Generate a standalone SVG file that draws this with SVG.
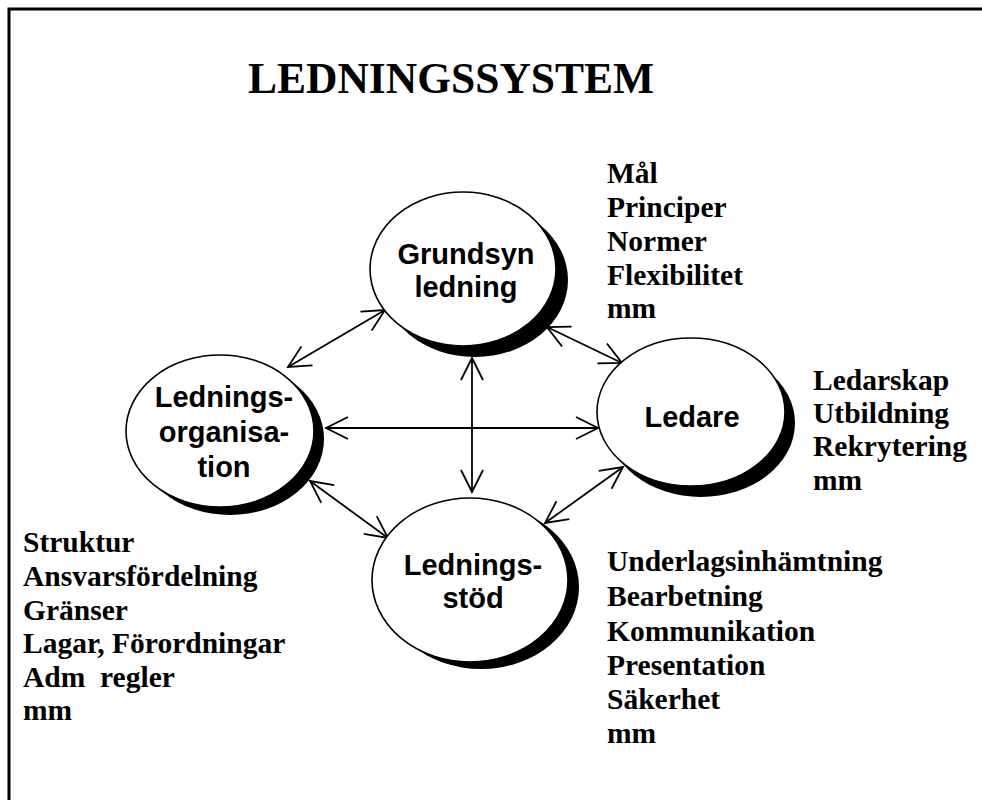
<svg xmlns="http://www.w3.org/2000/svg" width="982" height="800" viewBox="0 0 982 800">
<style>
.frame{fill:none;stroke:#000;stroke-width:3}
.shadow{fill:#000;stroke:none}
.node{fill:#fff;stroke:#000;stroke-width:1.6}
.nl{font-family:"Liberation Sans",Arial,sans-serif;font-weight:bold;font-size:29px;fill:#000;text-anchor:middle}
.lst{font-family:"Liberation Serif","Times New Roman",serif;font-weight:bold;font-size:29.5px;fill:#000}
.title{font-family:"Liberation Serif","Times New Roman",serif;font-weight:bold;font-size:43.5px;fill:#000}
.conn{stroke:#000;stroke-width:1.8;fill:none;marker-start:url(#ah);marker-end:url(#ah)}
</style>
<defs>
<marker id="ah" viewBox="-25 -13 27 26" markerWidth="27" markerHeight="26" refX="0" refY="0" markerUnits="userSpaceOnUse" orient="auto-start-reverse">
<path d="M-22,-11 L0,0 L-22,11" fill="none" stroke="#000" stroke-width="1.8"/>
</marker>
</defs>
<rect width="982" height="800" fill="#fff"/>
<path class="frame" d="M9,802 L9,9 L984,9"/>
<text class="title" x="248" y="93">LEDNINGSSYSTEM</text>

<g id="connectors">
<line class="conn" x1="385" y1="310" x2="288" y2="367"/>
<line class="conn" x1="547" y1="327" x2="622" y2="363"/>
<line class="conn" x1="472" y1="358" x2="472" y2="492"/>
<line class="conn" x1="326" y1="428" x2="598" y2="428"/>
<line class="conn" x1="310" y1="481" x2="388" y2="538"/>
<line class="conn" x1="623" y1="467" x2="545" y2="523"/>
</g>

<g id="grundsyn">
<ellipse class="shadow" cx="475" cy="280" rx="93" ry="77"/>
<ellipse class="node" cx="463" cy="269" rx="93" ry="77"/>
<text class="nl" x="466" y="264">Grundsyn</text>
<text class="nl" x="466" y="297">ledning</text>
</g>

<g id="ledningsorganisation">
<ellipse class="shadow" cx="230" cy="439" rx="94" ry="76"/>
<ellipse class="node" cx="220" cy="431" rx="94" ry="76"/>
<text class="nl" x="224" y="407">Lednings-</text>
<text class="nl" x="224" y="442">organisa-</text>
<text class="nl" x="224" y="477">tion</text>
</g>

<g id="ledare">
<ellipse class="shadow" cx="701" cy="423" rx="94" ry="74"/>
<ellipse class="node" cx="691" cy="412" rx="94" ry="74"/>
<text class="nl" x="692" y="427">Ledare</text>
</g>

<g id="ledningsstod">
<ellipse class="shadow" cx="481" cy="587" rx="98" ry="82"/>
<ellipse class="node" cx="470" cy="580" rx="98" ry="82"/>
<text class="nl" x="473" y="575">Lednings-</text>
<text class="nl" x="473" y="608">stöd</text>
</g>

<g id="list-grundsyn">
<text class="lst" x="607" y="183">Mål</text>
<text class="lst" x="607" y="217">Principer</text>
<text class="lst" x="607" y="251">Normer</text>
<text class="lst" x="607" y="285">Flexibilitet</text>
<text class="lst" x="607" y="318">mm</text>
</g>

<g id="list-ledare">
<text class="lst" x="813" y="390">Ledarskap</text>
<text class="lst" x="813" y="423">Utbildning</text>
<text class="lst" x="813" y="456">Rekrytering</text>
<text class="lst" x="813" y="490">mm</text>
</g>

<g id="list-organisation">
<text class="lst" x="23" y="552">Struktur</text>
<text class="lst" x="23" y="586">Ansvarsfördelning</text>
<text class="lst" x="23" y="620">Gränser</text>
<text class="lst" x="23" y="653">Lagar, Förordningar</text>
<text class="lst" x="23" y="687">Adm&#160; regler</text>
<text class="lst" x="23" y="720">mm</text>
</g>

<g id="list-ledningsstod">
<text class="lst" x="607" y="571">Underlagsinhämtning</text>
<text class="lst" x="607" y="606">Bearbetning</text>
<text class="lst" x="607" y="641">Kommunikation</text>
<text class="lst" x="607" y="675">Presentation</text>
<text class="lst" x="607" y="709">Säkerhet</text>
<text class="lst" x="607" y="743">mm</text>
</g>
</svg>
